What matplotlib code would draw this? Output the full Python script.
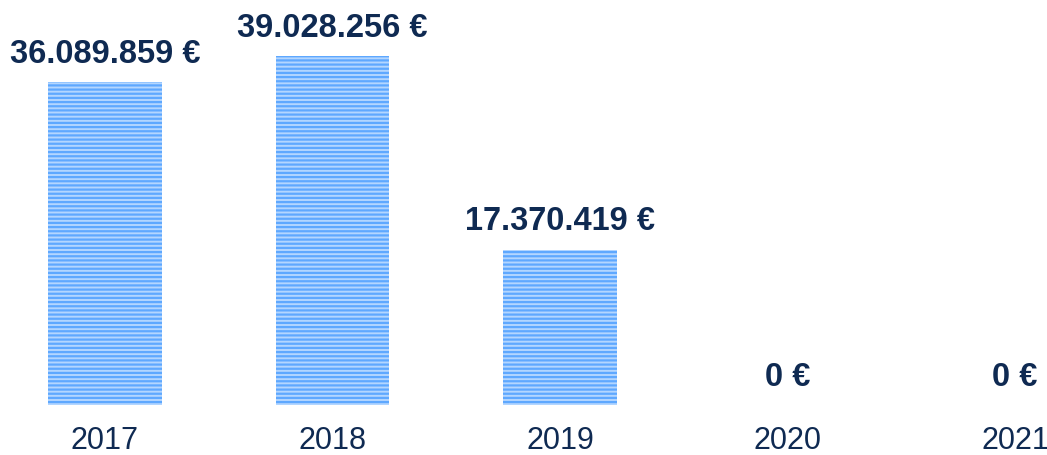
import matplotlib.pyplot as plt
import numpy as np

years = ['2017', '2018', '2019', '2020', '2021']
amounts = [36089859, 39028256, 17370419, 0, 0]
labels = ['36.089.859 €', '39.028.256 €', '17.370.419 €', '0 €', '0 €']

plt.rcParams['font.family'] = ['Liberation Sans', 'DejaVu Sans']
plt.rcParams['hatch.linewidth'] = 1.6

navy = '#0f2a52'

fig = plt.figure(figsize=(10.47, 4.55), dpi=100)
ax = fig.add_axes([0, 50 / 455, 1, 405 / 455])

x = np.arange(len(years))
ax.bar(x, amounts, width=0.5, color='#b3d6ff', edgecolor='#5ea8ff',
       linewidth=0, hatch='----')

for xi, val, lab in zip(x, amounts, labels):
    ax.annotate(lab, xy=(xi, val), xytext=(0, 14), textcoords='offset points',
                ha='center', va='baseline', fontsize=23.5, fontweight='bold',
                color=navy)
    # year under the bar
    ax.annotate(years[xi], xy=(xi, 0), xytext=(0, -31.5), textcoords='offset points',
                ha='center', va='baseline', fontsize=22, color=navy,
                annotation_clip=False)

ax.set_xlim(-0.4615, 4.1407)
ax.set_ylim(0, 45.3e6)
ax.axis('off')

fig.savefig('out.png', dpi=100)
